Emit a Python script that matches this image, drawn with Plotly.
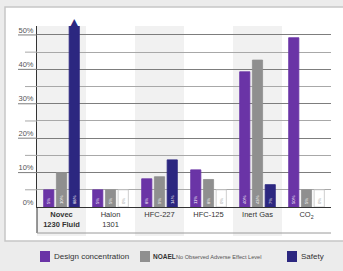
import plotly.graph_objects as go

# ---- data ----
categories = ["<b>Novec<br>1230 Fluid</b>", "Halon<br>1301", "HFC-227", "HFC-125", "Inert Gas", "CO<sub>2</sub>"]
design_values = [5, 5, 8.2, 10.8, 39.3, 49.2]      # drawn bar heights (%)
noael_values = [10, 5, 8.8, 8, 42.7, 5]
safety_values = [60, 5, 13.7, 5, 6.5, 5]
design_labels = ["5%", "5%", "8%", "11%", "40%", "50%"]
noael_labels = ["10%", "5%", "9%", "8%", "43%", "5%"]
safety_labels = ["88%", "0%", "14%", "0%", "7%", "0%"]
series_names = ["Design concentration", "NOAEL", "Safety"]
noael_note = "No Observed Adverse Effect Level"
y_major = [0, 10, 20, 30, 40, 50]
y_minor = [5, 15, 25, 35, 45]

PURPLE = "#6a34a6"
GRAY = "#8f8f8f"
NAVY = "#2c2780"
FONT = "Liberation Sans, Arial, sans-serif"

W, H = 343, 271
L, R, T, B = 37, 12, 26, 64
plot_h = H - T - B
plot_w = W - L - R
Y_MAX = 52.6


def py(pix):  # pixel row -> paper y
    return (H - B - pix) / plot_h


def px(pix):  # pixel column -> paper x
    return (pix - L) / plot_w


fig = go.Figure()

def add_bar(name, vals, labels, color, textcol):
    is_zero = [lab == "0%" for lab in labels]
    fig.add_trace(go.Bar(
        name=name, x=categories, y=vals,
        text=labels, textposition="inside", insidetextanchor="start",
        textangle=-90,
        insidetextfont=dict(size=6, family=FONT,
                            color=["#9a9a9a" if z else textcol for z in is_zero]),
        marker=dict(color=["#ffffff" if z else color for z in is_zero],
                    line=dict(color=["#c0c0c0" if z else color for z in is_zero], width=0.8)),
        hoverinfo="skip", showlegend=False,
    ))

add_bar(series_names[0], design_values, design_labels, PURPLE, "#ffffff")
add_bar(series_names[1], noael_values, noael_labels, GRAY, "#ffffff")
add_bar(series_names[2], safety_values, safety_labels, NAVY, "#ffffff")

shapes = []
# card background
shapes.append(dict(type="rect", xref="paper", yref="paper", x0=px(5), x1=px(W + 5),
                   y0=py(241), y1=py(7), fillcolor="#ffffff",
                   line=dict(color="#c6c6c6", width=1.5), layer="below"))
# alternating column shading
for i in range(0, len(categories), 2):
    shapes.append(dict(type="rect", xref="x", yref="paper", x0=i - 0.5, x1=i + 0.5,
                       y0=py(236), y1=1, fillcolor="#f1f1f1", line=dict(width=0), layer="below"))
# gridline extensions to the left of the axis
for v in y_major[1:]:
    shapes.append(dict(type="line", xref="paper", yref="y", x0=px(18), x1=0, y0=v, y1=v,
                       line=dict(color="#7d7d7d", width=1)))
for v in y_minor:
    shapes.append(dict(type="line", xref="paper", yref="y", x0=px(25), x1=0, y0=v, y1=v,
                       line=dict(color="#a8a8a8", width=1)))
# label box below the axis
shapes.append(dict(type="line", xref="paper", yref="paper", x0=0, x1=0, y0=py(233), y1=0,
                   line=dict(color="#333333", width=1)))
shapes.append(dict(type="line", xref="paper", yref="paper", x0=0, x1=1, y0=py(233), y1=py(233),
                   line=dict(color="#9a9a9a", width=1)))

# manual legend (swatches + text)
legend_swatch_x = [40, 140, 287]
legend_colors = [PURPLE, GRAY, NAVY]
for sx, col in zip(legend_swatch_x, legend_colors):
    shapes.append(dict(type="rect", xref="paper", yref="paper", x0=px(sx), x1=px(sx + 10),
                       y0=py(262), y1=py(251), fillcolor=col, line=dict(width=0)))

annotations = [
    # arrow tip on the out-of-range safety bar
    dict(x=categories[0], y=1, xref="x", yref="paper", text="▲", showarrow=False,
         xshift=12.7, yanchor="bottom", yshift=-5,
         font=dict(size=11, color=NAVY, family="DejaVu Sans")),
    dict(x=px(52), y=py(256.5), xref="paper", yref="paper", text=series_names[0],
         showarrow=False, xanchor="left", yanchor="middle",
         font=dict(size=8, color="#333333", family=FONT)),
    dict(x=px(151), y=py(256.5), xref="paper", yref="paper", text="<b>" + series_names[1] + "</b>",
         showarrow=False, xanchor="left", yanchor="middle",
         font=dict(size=6.5, color="#333333", family=FONT)),
    dict(x=px(174), y=py(256.5), xref="paper", yref="paper", text=noael_note,
         showarrow=False, xanchor="left", yanchor="middle",
         font=dict(size=5.6, color="#555555", family=FONT)),
    dict(x=px(299), y=py(256.5), xref="paper", yref="paper", text=series_names[2],
         showarrow=False, xanchor="left", yanchor="middle",
         font=dict(size=8, color="#333333", family=FONT)),
]

fig.update_layout(
    width=W, height=H,
    margin=dict(l=L, r=R, t=T, b=B),
    paper_bgcolor="#ececec",
    plot_bgcolor="rgba(0,0,0,0)",
    barmode="group", bargap=0.22, bargroupgap=0.2,
    font=dict(family=FONT, size=7.5, color="#333333"),
    shapes=shapes,
    annotations=annotations,
    showlegend=False,
    xaxis=dict(type="category", showline=True, linecolor="#333333", linewidth=1,
               showgrid=False, ticks="", tickfont=dict(size=7.5, color="#333333", family=FONT),
               fixedrange=True, automargin=False),
    yaxis=dict(range=[0, Y_MAX], tickvals=y_major, ticktext=[f"{v}%" for v in y_major],
               showgrid=True, gridcolor="#7d7d7d", gridwidth=1,
               minor=dict(tickvals=y_minor, showgrid=True, gridcolor="#a8a8a8", gridwidth=1),
               showline=True, linecolor="#333333", linewidth=1, zeroline=False,
               ticks="", ticklabelshift=-5, ticklabelstandoff=1,
               tickfont=dict(size=7.5, color="#555555", family=FONT), fixedrange=True,
               automargin=False),
)

fig.write_html("out.html", config={"displayModeBar": False},
               post_script="document.body.style.margin='0';")
